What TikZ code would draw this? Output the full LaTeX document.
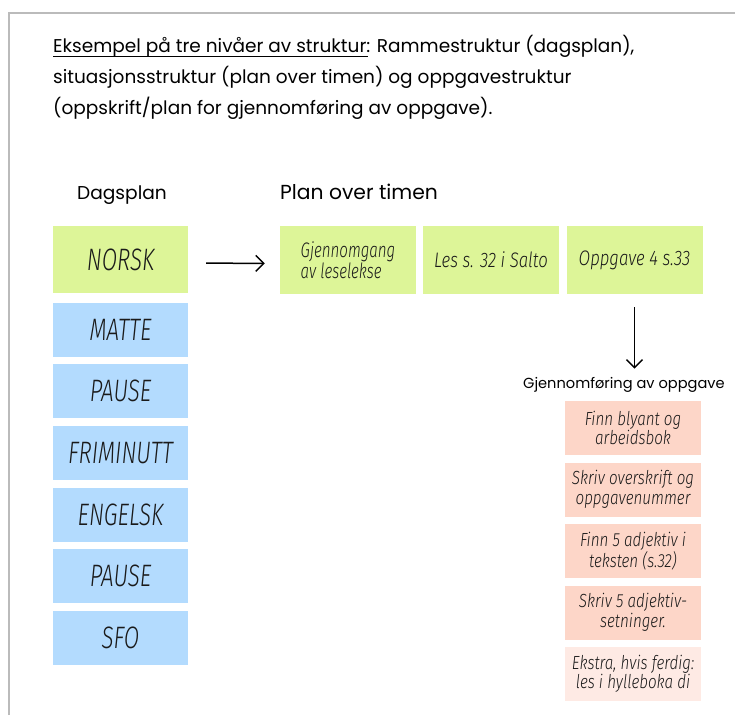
\documentclass[tikz,border=0pt]{standalone}
\usepackage{fontspec}
\setmainfont{Poppins}
\newfontfamily\hand[FakeStretch=0.72]{Fira Sans Light}
\newfontfamily\handw[FakeStretch=0.8]{Fira Sans Light}
\usetikzlibrary{arrows.meta}
\definecolor{grn}{HTML}{DDF598}
\definecolor{blu}{HTML}{B3DBFE}
\definecolor{pnk}{HTML}{FDD6C8}
\definecolor{lpnk}{HTML}{FEEAE4}
\definecolor{ink}{HTML}{1A1A1A}
\definecolor{frame}{HTML}{BBBBBB}
\tikzset{
  box/.style={rectangle, inner sep=0pt, text=ink},
  bigbox/.style={box, minimum width=135pt, minimum height=54pt, font=\hand\itshape\fontsize{31}{32}\selectfont},
  planbox/.style={box, fill=grn, minimum width=136pt, minimum height=68pt, font=\handw\itshape\fontsize{21}{22}\selectfont},
  taskbox/.style={box, fill=pnk, minimum width=136pt, minimum height=54pt, align=center, font=\handw\itshape\fontsize{19}{19.5}\selectfont},
  head/.style={inner sep=0pt, anchor=base west},
  title/.style={inner sep=0pt, anchor=base west, font=\fontsize{18.5}{20}\selectfont},
  arr/.style={line width=1.5pt, -{Straight Barb[length=8pt,width=16pt,line width=1.5pt]}}
}
\begin{document}
\begin{tikzpicture}[x=1pt,y=-1pt]
\useasboundingbox (0,0) rectangle (735,715);
\fill[white] (0,0) rectangle (735,715);
\draw[frame, line width=1.2pt] (9,715) -- (9,13) -- (735,13);
% title
\node[title] (t1) at (53,52) {Eksempel på tre nivåer av struktur: Rammestruktur (dagsplan),};
\draw[line width=1pt] (53,56) -- (368,56);
\node[title] (t2) at (53,83) {situasjonsstruktur (plan over timen) og oppgavestruktur};
\node[title] (t3) at (53,114) {(oppskrift/plan for gjennomføring av oppgave).};
% headers
\node[head, font=\fontsize{18.6}{22}\selectfont] (hd) at (77,199) {Dagsplan};
\node[head, font=\fontsize{20.3}{22}\selectfont] (hp) at (280,199) {Plan over timen};
\node[head, font=\fontsize{14.6}{18}\selectfont] (hg) at (523,388) {Gjennomføring av oppgave};
% day plan
\node[bigbox, fill=grn, minimum height=67pt] (norsk) at (120.5,259.5) {NORSK};
\node[bigbox, fill=blu] (b1) at (120.5,329.5) {MATTE};
\node[bigbox, fill=blu] (b2) at (120.5,391) {PAUSE};
\node[bigbox, fill=blu] (b3) at (120.5,453) {FRIMINUTT};
\node[bigbox, fill=blu] (b4) at (120.5,514.5) {ENGELSK};
\node[bigbox, fill=blu] (b5) at (120.5,576) {PAUSE};
\node[bigbox, fill=blu] (b6) at (120.5,637.5) {SFO};
% lesson plan
\node[planbox, align=left, font=\hand\itshape\fontsize{21}{22}\selectfont] (gj) at (348,260) {Gjennomgang\\[-1pt]av leselekse};
\node[planbox] (les) at (491,260) {Les s. 32 i Salto};
\node[planbox] (opp) at (634.5,260) {Oppgave 4 s.33};
% tasks
\node[taskbox] (k1) at (633,428) {Finn blyant og\\arbeidsbok};
\node[taskbox] (k2) at (633,489.5) {Skriv overskrift og\\oppgavenummer};
\node[taskbox] (k3) at (633,551) {Finn 5 adjektiv i\\teksten (s.32)};
\node[taskbox] (k4) at (633,612.5) {Skriv 5 adjektiv-\\setninger.};
\node[taskbox, fill=lpnk] (k5) at (633,674) {Ekstra, hvis ferdig:\\les i hylleboka di};
% arrows
\draw[arr, shorten <=18pt, shorten >=15pt] ([yshift=-3.5pt]norsk.east) -- ([yshift=-3.5pt]gj.west);
\draw[arr, shorten <=13pt, shorten >=8pt] (opp.south) -- (opp.south |- hg.north);
\end{tikzpicture}
\end{document}
